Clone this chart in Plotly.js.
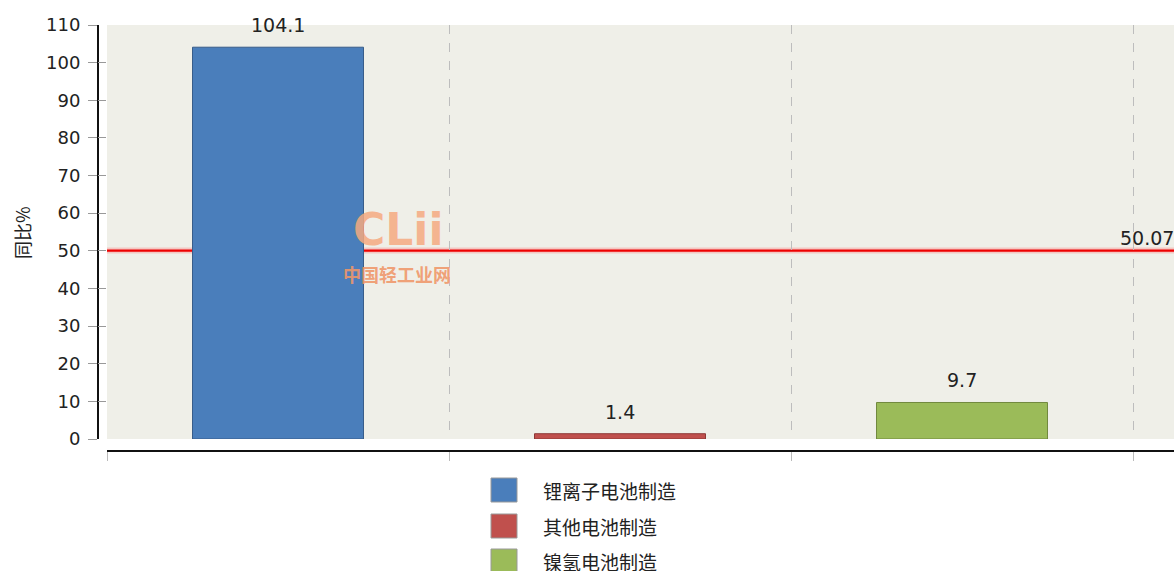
<!DOCTYPE html>
<html>
<head>
<meta charset="utf-8">
<script src="https://cdn.plot.ly/plotly-3.0.1.min.js"></script>
<style>html,body{margin:0;padding:0;background:#fff;}#chart{width:1174px;height:571px;}</style>
</head>
<body>
<div id="chart"></div>
<script>
// ---- data ----
const categories = ["锂离子电池制造", "其他电池制造", "镍氢电池制造"];
const values = [104.1, 1.4, 9.7];
const valueLabels = ["104.1", "1.4", "9.7"];
const avgValue = 50.07;
const avgLabel = "50.07";
const yTicks = [0, 10, 20, 30, 40, 50, 60, 70, 80, 90, 100, 110];
const colors = ["#4a7ebb", "#c0504d", "#9bbb59"];
const borders = ["#385d8a", "#8c3836", "#71893e"];

// ---- layout geometry (pixels) ----
const W = 1174, H = 571;
const mL = 97, mR = 0, mT = 25, mB = 121;
const pw = W - mL - mR, ph = H - mT - mB;
const px2x = p => (p - mL) / pw;
const px2y = p => (H - mB - p) / ph;

const fontFam = "DejaVu Sans, Verdana, sans-serif";
const cjkFam = "Noto Sans CJK SC, sans-serif";

const traces = categories.map((c, i) => ({
  type: "bar",
  name: c,
  x: [i],
  y: [values[i]],
  width: 0.5,
  marker: {color: colors[i], line: {color: borders[i], width: 1}},
  hoverinfo: "none",
  showlegend: false,
  xaxis: "x", yaxis: "y"
}));
// invisible trace for inner ticks axis
traces.push({type: "scatter", x: [0], y: [0], mode: "none", xaxis: "x", yaxis: "y2", showlegend: false, hoverinfo: "none"});

const annotations = [];
categories.forEach((c, i) => {
  annotations.push({
    x: i, y: values[i], xref: "x", yref: "y", text: valueLabels[i],
    showarrow: false, yanchor: "bottom", yshift: 9,
    font: {family: fontFam, size: 19, color: "#222"}
  });
});
// average label
annotations.push({
  x: 1, y: avgValue, xref: "paper", yref: "y", text: avgLabel,
  showarrow: false, xanchor: "right", yanchor: "bottom", yshift: 0, xshift: 2,
  font: {family: fontFam, size: 19, color: "#222"}
});
// y-axis title
annotations.push({
  x: px2x(22), y: px2y(233), xref: "paper", yref: "paper", text: "同比%",
  showarrow: false, textangle: -90, xanchor: "center", yanchor: "middle",
  font: {family: cjkFam, size: 18, color: "#222"}
});
// watermark
annotations.push({
  x: px2x(398), y: px2y(257), xref: "paper", yref: "paper", text: "<b>CLii</b>",
  showarrow: false, xanchor: "center", yanchor: "bottom",
  font: {family: "DejaVu Sans, sans-serif", size: 44, color: "rgba(246,170,128,0.85)"}
});
annotations.push({
  x: px2x(397), y: px2y(259), xref: "paper", yref: "paper", text: "<b>中国轻工业网</b>",
  showarrow: false, xanchor: "center", yanchor: "top",
  font: {family: cjkFam, size: 18, color: "rgba(240,150,105,0.9)"}
});

const shapes = [];
// average line halo and line
shapes.push({type: "line", xref: "x domain", yref: "y", x0: 0, x1: 1, y0: avgValue, y1: avgValue,
  line: {color: "rgba(255,80,80,0.25)", width: 6}, layer: "below"});
shapes.push({type: "line", xref: "x domain", yref: "y", x0: 0, x1: 1, y0: avgValue, y1: avgValue,
  line: {color: "#ee0000", width: 2.2}, layer: "below"});

// custom legend
const rowY = [490, 526, 561];
categories.forEach((c, i) => {
  shapes.push({type: "rect", xref: "paper", yref: "paper",
    x0: px2x(491), x1: px2x(517), y0: px2y(rowY[i] - 12), y1: px2y(rowY[i] + 12),
    fillcolor: colors[i], line: {color: "#999", width: 1}});
  annotations.push({x: px2x(541), y: px2y(rowY[i]), xref: "paper", yref: "paper",
    text: c, showarrow: false, xanchor: "left", yanchor: "middle",
    font: {family: cjkFam, size: 19, color: "#222"}});
});

const xStart = px2x(107);
const layout = {
  width: W, height: H,
  margin: {l: mL, r: mR, t: mT, b: mB, pad: 0},
  paper_bgcolor: "#ffffff",
  plot_bgcolor: "#efefe8",
  barmode: "overlay",
  showlegend: false,
  xaxis: {
    domain: [xStart, 1],
    anchor: "free", position: 0,
    range: [-0.5, (1174 - 107) / 342 - 0.5],
    tickmode: "array", tickvals: [-0.5, 0.5, 1.5, 2.5], showticklabels: false,
    ticks: "outside", ticklen: 9, tickcolor: "#bbbbbb", tickwidth: 1,
    showgrid: true, gridcolor: "#bdbdbd", griddash: "dash", gridwidth: 1,
    showline: true, linecolor: "#111", linewidth: 1.5,
    zeroline: false, fixedrange: true
  },
  yaxis: {
    domain: [px2y(439), 1],
    anchor: "free", position: 0,
    range: [0, 110],
    tickmode: "array", tickvals: yTicks,
    ticks: "outside", ticklen: 9, tickcolor: "#999", tickwidth: 1,
    ticklabelstandoff: 4,
    tickfont: {family: fontFam, size: 18, color: "#222"},
    showgrid: false, zeroline: false,
    showline: true, linecolor: "#111", linewidth: 1.5,
    fixedrange: true
  },
  yaxis2: {
    domain: [px2y(439), 1],
    overlaying: "y", anchor: "free", position: 0,
    range: [0, 110],
    tickmode: "array", tickvals: yTicks,
    ticks: "inside", ticklen: 8, tickcolor: "#999", tickwidth: 1,
    showticklabels: false, showgrid: false, zeroline: false, showline: false,
    fixedrange: true
  },
  shapes: shapes,
  annotations: annotations
};

Plotly.newPlot("chart", traces, layout, {staticPlot: true, displayModeBar: false});
</script>
</body>
</html>
